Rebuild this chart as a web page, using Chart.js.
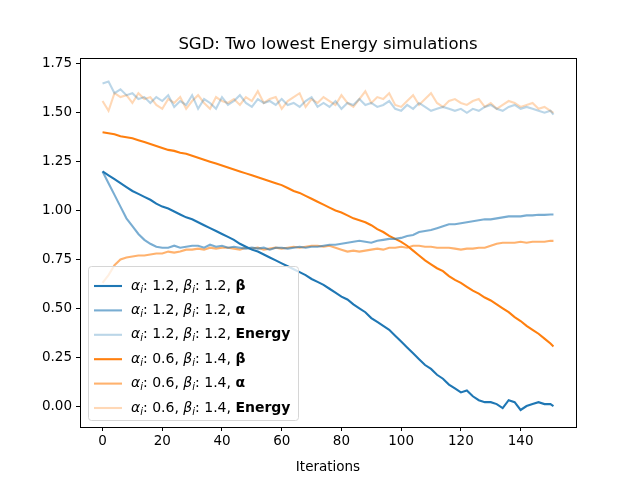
<!DOCTYPE html>
<html>
<head>
<meta charset="utf-8">
<script src="https://cdn.jsdelivr.net/npm/chart.js@4"></script>
<style>
  body { margin: 0; background: #fff; }
  #wrap { width: 640px; height: 480px; }
</style>
</head>
<body>
<div id="wrap"><canvas id="chart" width="640" height="480"></canvas></div>
<script>
// Iterations sampled every 2 steps, plus the last one
const iterations = [];
for (let i = 0; i <= 150; i += 2) iterations.push(i);
iterations.push(151);

const blueBeta = [1.20,1.18,1.16,1.14,1.12,1.10,1.085,1.07,1.055,1.035,1.02,1.01,0.995,0.98,0.965,0.955,0.94,0.925,0.91,0.895,0.88,0.865,0.85,0.83,0.815,0.80,0.79,0.775,0.76,0.745,0.73,0.715,0.70,0.685,0.67,0.65,0.635,0.62,0.60,0.58,0.56,0.545,0.52,0.50,0.48,0.45,0.43,0.41,0.39,0.36,0.33,0.30,0.27,0.24,0.21,0.19,0.16,0.14,0.11,0.09,0.07,0.08,0.05,0.03,0.02,0.02,0.01,-0.01,0.03,0.02,-0.02,0.00,0.01,0.02,0.01,0.01,0.00];
const blueAlpha = [1.20,1.14,1.08,1.02,0.96,0.92,0.88,0.85,0.83,0.815,0.81,0.81,0.82,0.81,0.815,0.82,0.82,0.81,0.825,0.815,0.82,0.81,0.815,0.81,0.805,0.81,0.805,0.81,0.80,0.81,0.81,0.805,0.81,0.815,0.81,0.815,0.815,0.82,0.825,0.825,0.83,0.835,0.84,0.845,0.84,0.835,0.845,0.85,0.855,0.855,0.86,0.87,0.875,0.89,0.895,0.90,0.91,0.92,0.93,0.93,0.935,0.94,0.945,0.95,0.955,0.955,0.96,0.965,0.97,0.97,0.97,0.975,0.975,0.978,0.978,0.98,0.98];
const blueEnergy = [1.65,1.66,1.60,1.62,1.59,1.60,1.57,1.58,1.55,1.58,1.56,1.59,1.53,1.56,1.54,1.59,1.52,1.57,1.55,1.52,1.58,1.54,1.56,1.59,1.55,1.53,1.57,1.55,1.56,1.54,1.57,1.54,1.55,1.53,1.56,1.58,1.53,1.55,1.53,1.56,1.52,1.55,1.54,1.57,1.54,1.55,1.53,1.54,1.56,1.52,1.51,1.54,1.52,1.55,1.53,1.51,1.52,1.53,1.52,1.51,1.52,1.50,1.52,1.51,1.53,1.54,1.52,1.51,1.53,1.54,1.52,1.53,1.52,1.51,1.50,1.51,1.49];
const orangeBeta = [1.40,1.395,1.39,1.38,1.375,1.37,1.36,1.35,1.34,1.33,1.32,1.31,1.305,1.295,1.29,1.28,1.27,1.26,1.25,1.24,1.23,1.22,1.21,1.20,1.19,1.18,1.17,1.16,1.15,1.14,1.13,1.115,1.10,1.09,1.075,1.06,1.045,1.03,1.015,1.00,0.99,0.975,0.96,0.95,0.94,0.925,0.905,0.89,0.87,0.855,0.84,0.82,0.795,0.77,0.745,0.725,0.705,0.69,0.665,0.645,0.63,0.61,0.59,0.575,0.555,0.54,0.52,0.50,0.48,0.455,0.435,0.41,0.39,0.37,0.345,0.32,0.305];
const orangeAlpha = [0.63,0.67,0.72,0.75,0.76,0.765,0.77,0.77,0.775,0.78,0.78,0.79,0.785,0.79,0.80,0.80,0.805,0.80,0.81,0.805,0.81,0.81,0.805,0.80,0.81,0.805,0.81,0.80,0.805,0.81,0.805,0.81,0.815,0.81,0.815,0.82,0.82,0.815,0.82,0.81,0.80,0.79,0.795,0.79,0.795,0.80,0.805,0.80,0.81,0.81,0.815,0.81,0.82,0.82,0.815,0.815,0.81,0.81,0.81,0.805,0.80,0.805,0.805,0.81,0.81,0.82,0.83,0.835,0.835,0.835,0.84,0.835,0.84,0.84,0.84,0.845,0.845];
const orangeEnergy = [1.56,1.51,1.60,1.58,1.59,1.55,1.60,1.57,1.58,1.54,1.52,1.57,1.55,1.58,1.52,1.56,1.59,1.55,1.52,1.58,1.56,1.55,1.57,1.54,1.58,1.56,1.61,1.55,1.57,1.58,1.52,1.56,1.58,1.60,1.53,1.57,1.55,1.58,1.56,1.54,1.59,1.55,1.53,1.57,1.61,1.55,1.58,1.57,1.60,1.54,1.53,1.56,1.59,1.54,1.57,1.60,1.55,1.53,1.56,1.57,1.55,1.54,1.56,1.57,1.53,1.55,1.52,1.54,1.56,1.55,1.53,1.54,1.55,1.52,1.53,1.51,1.50];

const xTicks = [0, 20, 40, 60, 80, 100, 120, 140];
const yTicks = [0.00, 0.25, 0.50, 0.75, 1.00, 1.25, 1.50, 1.75];

// legend pieces: [alpha_i value, beta_i value, bold symbol]
const runs = [
  ["1.2", "1.2", "β"], ["1.2", "1.2", "α"], ["1.2", "1.2", "Energy"],
  ["0.6", "1.4", "β"], ["0.6", "1.4", "α"], ["0.6", "1.4", "Energy"],
];

const FONT = "'DejaVu Sans', sans-serif";

function pts(values) {
  return values.map((v, i) => ({ x: iterations[i], y: v }));
}

function series(label, values, color) {
  return {
    label: label,
    data: pts(values),
    borderColor: color,
    borderWidth: 2.1,
    pointRadius: 0,
    tension: 0,
    fill: false,
  };
}

const datasets = [
  series("αi: 1.2, βi: 1.2, β", blueBeta, "rgba(31,119,180,1)"),
  series("αi: 1.2, βi: 1.2, α", blueAlpha, "rgba(31,119,180,0.6)"),
  series("αi: 1.2, βi: 1.2, Energy", blueEnergy, "rgba(31,119,180,0.3)"),
  series("αi: 0.6, βi: 1.4, β", orangeBeta, "rgba(255,127,14,1)"),
  series("αi: 0.6, βi: 1.4, α", orangeAlpha, "rgba(255,127,14,0.6)"),
  series("αi: 0.6, βi: 1.4, Energy", orangeEnergy, "rgba(255,127,14,0.3)"),
];

// Draws a legend label piece by piece (italic symbols, subscripts, bold end)
function drawLabel(ctx, x, y, run) {
  const parts = [
    ["α", "italic 14px"], ["i", "italic 10px", 4], [": " + run[0] + ", ", "14px"],
    ["β", "italic 14px"], ["i", "italic 10px", 4], [": " + run[1] + ", ", "14px"],
    [run[2], "bold 14px"],
  ];
  parts.forEach((p) => {
    ctx.font = p[1] + " " + FONT;
    ctx.fillText(p[0], x, y + (p[2] || 0));
    x += ctx.measureText(p[0]).width;
  });
}

const framePlugin = {
  id: "frame",
  afterDraw(chart) {
    const ctx = chart.ctx;
    const a = chart.chartArea;
    ctx.save();
    ctx.strokeStyle = "#000";
    ctx.lineWidth = 1;
    ctx.strokeRect(a.left + 0.5, a.top + 0.5, a.right - a.left, a.bottom - a.top);

    // title
    ctx.fillStyle = "#000";
    ctx.font = "16.5px " + FONT;
    ctx.textAlign = "center";
    ctx.textBaseline = "alphabetic";
    ctx.fillText("SGD: Two lowest Energy simulations", (a.left + a.right) / 2, 49);

    // legend
    const lx = 88, ly = 266, lw = 210, lh = 154;
    ctx.fillStyle = "rgba(255,255,255,0.8)";
    ctx.strokeStyle = "#d6d6d6";
    ctx.beginPath();
    ctx.roundRect(lx + 0.5, ly + 0.5, lw, lh, 3);
    ctx.fill();
    ctx.stroke();
    ctx.textAlign = "left";
    ctx.textBaseline = "middle";
    chart.data.datasets.forEach((ds, i) => {
      const y = ly + 20 + i * 24.4;
      ctx.strokeStyle = ds.borderColor;
      ctx.lineWidth = 2.1;
      ctx.beginPath();
      ctx.moveTo(94, y);
      ctx.lineTo(122, y);
      ctx.stroke();
      ctx.fillStyle = "#000";
      drawLabel(ctx, 131, y, runs[i]);
    });
    ctx.restore();
  },
};

const tickFont = { family: FONT, size: 13.5 };

new Chart(document.getElementById("chart"), {
  type: "line",
  data: { datasets: datasets },
  options: {
    responsive: false,
    animation: false,
    layout: { padding: { top: 58, right: 64, left: 0, bottom: 0 } },
    plugins: { legend: { display: false }, tooltip: { enabled: false } },
    scales: {
      x: {
        type: "linear",
        min: -7.55,
        max: 158.55,
        afterBuildTicks: (s) => { s.ticks = xTicks.map((v) => ({ value: v })); },
        afterFit: (s) => { s.height = 53; },
        grid: { display: true, drawOnChartArea: false, color: "#000", tickLength: 4 },
        border: { display: true, color: "#000" },
        ticks: { color: "#000", font: tickFont, padding: 2, maxRotation: 0 },
        title: { display: true, text: "Iterations", color: "#000", font: tickFont, padding: { top: -4 } },
      },
      y: {
        min: -0.107,
        max: 1.78,
        afterBuildTicks: (s) => { s.ticks = yTicks.map((v) => ({ value: v })); },
        afterFit: (s) => { s.width = 80; },
        grid: { display: true, drawOnChartArea: false, color: "#000", tickLength: 4 },
        border: { display: true, color: "#000" },
        ticks: { color: "#000", font: tickFont, padding: 4, callback: (v) => v.toFixed(2) },
      },
    },
  },
  plugins: [framePlugin],
});
</script>
</body>
</html>
